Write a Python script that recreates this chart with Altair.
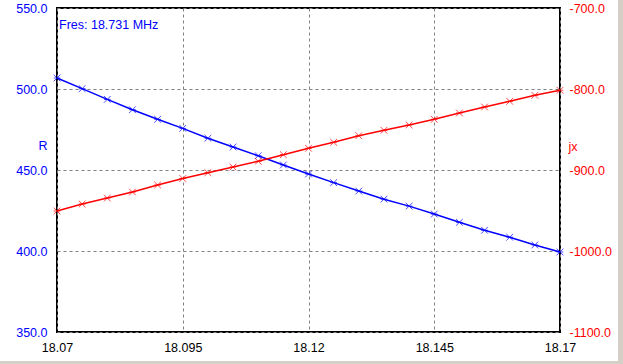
import altair as alt
import pandas as pd

freq = [18.070, 18.075, 18.080, 18.085, 18.090, 18.095, 18.100, 18.105, 18.110, 18.115,
        18.120, 18.125, 18.130, 18.135, 18.140, 18.145, 18.150, 18.155, 18.160, 18.165, 18.170]
R = [506.8, 500.2, 493.6, 487.2, 481.3, 475.7, 469.6, 464.2, 458.8, 453.1,
     447.5, 442.2, 437.0, 432.0, 427.7, 422.8, 417.7, 412.8, 408.5, 403.7, 399.4]
jx = [-950.6, -942.0, -934.6, -927.2, -918.5, -910.5, -903.3, -896.3, -889.3, -881.1,
      -873.2, -865.8, -857.6, -851.0, -844.4, -837.4, -829.6, -822.2, -815.2, -807.8, -801.6]
x_ticks = [18.07, 18.095, 18.12, 18.145, 18.17]
r_ticks = [350, 400, 450, 500, 550]
jx_ticks = [-1100, -1000, -900, -800, -700]
annotation = "Fres: 18.731 MHz"

FONT = "Liberation Sans"
BLUE = "#0000FF"
RED = "#FF0000"
xpath = "M-1,-1L1,1M1,-1L-1,1M-1,0L1,0"

df = pd.DataFrame({"f": freq, "R": R, "jx": jx})

xenc = alt.X("f:Q", scale=alt.Scale(domain=[18.07, 18.17], nice=False, zero=False),
             axis=alt.Axis(values=x_ticks, format=".3~f", title=None, grid=True,
                           gridColor="#808080", gridDash=[3, 3], gridWidth=1,
                           labelColor="black", labelPadding=9, ticks=False, domain=False,
                           labelFlush=False))

yR = alt.Y("R:Q", scale=alt.Scale(domain=[350, 550], nice=False, zero=False),
           axis=alt.Axis(values=r_ticks, format=".1f", title="R", titleAngle=0,
                         titleX=-10, titleY=137, titleAlign="right", titleBaseline="middle",
                         titleColor=BLUE, titleFontWeight="normal", titleFontSize=12.5,
                         titleFont=FONT, labelColor=BLUE, labelPadding=10, ticks=False,
                         domain=False, grid=True, gridColor="#808080", gridDash=[3, 3],
                         gridWidth=1, orient="left", labelFlush=False))

yJ = alt.Y("jx:Q", scale=alt.Scale(domain=[-1100, -700], nice=False, zero=False),
           axis=alt.Axis(values=jx_ticks,
                         labelExpr="datum.value < 0 ? '-' + format(-datum.value, '.1f') : format(datum.value, '.1f')",
                         title="jx", titleAngle=0,
                         titleX=8, titleY=138, titleAlign="left", titleBaseline="middle",
                         titleColor=RED, titleFontWeight="normal", titleFontSize=12.5,
                         titleFont=FONT, labelColor=RED, labelPadding=9, ticks=False,
                         domain=False, grid=False, orient="right", labelFlush=False))

base = alt.Chart(df)
blue = alt.layer(
    base.mark_line(color=BLUE, strokeWidth=1.5).encode(x=xenc, y=yR),
    base.mark_point(shape=xpath, size=45, color=BLUE, strokeWidth=1, filled=False).encode(x=xenc, y=yR),
)
red = alt.layer(
    base.mark_line(color=RED, strokeWidth=1.5).encode(x=xenc, y=yJ),
    base.mark_point(shape=xpath, size=45, color=RED, strokeWidth=1, filled=False).encode(x=xenc, y=yJ),
)

text = alt.Chart(pd.DataFrame({"t": [annotation]})).mark_text(
    align="left", baseline="alphabetic", font=FONT, fontSize=12.5, color=BLUE
).encode(x=alt.value(2), y=alt.value(21), text="t:N")

strip_r = alt.Chart(pd.DataFrame({"a": [0]})).mark_rect(color="#D4D0C8").encode(
    x=alt.value(561), x2=alt.value(566), y=alt.value(-8), y2=alt.value(356))
strip_b = alt.Chart(pd.DataFrame({"a": [0]})).mark_rect(color="#D4D0C8").encode(
    x=alt.value(-57), x2=alt.value(566), y=alt.value(353), y2=alt.value(356))

chart = alt.layer(blue, red, text, strip_r, strip_b).resolve_scale(y="independent").properties(
    width=503, height=324,
    autosize=alt.AutoSizeParams(type="none"),
    padding={"left": 57, "top": 8, "right": 63, "bottom": 32},
    background="white",
).configure_view(stroke="black", strokeWidth=2).configure_axis(
    labelFont=FONT, labelFontSize=12.5
)

chart.save("out.html", embed_options={"renderer": "svg", "actions": False})
